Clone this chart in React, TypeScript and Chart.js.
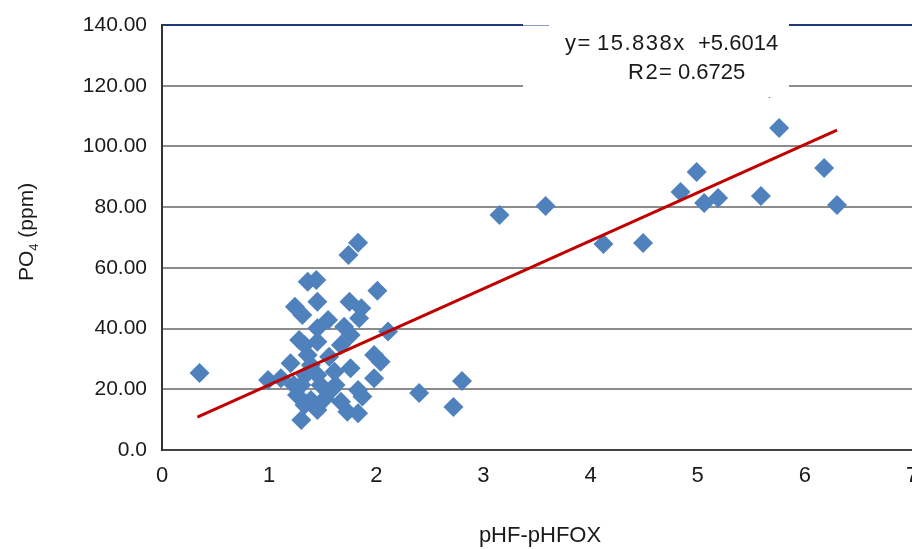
import React, { useEffect, useRef } from "react";
import { Chart, registerables } from "chart.js";

Chart.register(...registerables);

// Scatter data: pHF-pHFOX (x) vs PO4 ppm (y)
const xValues: number[] = [
  0.35, 2.40, 2.72, 2.80, 3.15, 3.58, 4.12, 4.49, 4.84, 4.99, 5.06, 5.19, 5.59, 5.76, 6.18, 6.30, 5.67,
  1.83, 1.74, 1.36, 1.44, 2.01, 1.24, 1.45, 1.75, 1.86, 1.31, 1.55, 1.84, 1.70, 1.45, 2.11,
  1.28, 1.33, 1.45, 1.76, 1.20, 1.36, 1.56, 1.98, 2.04, 0.99, 1.11, 1.30, 1.45, 1.61, 1.76,
  1.98, 1.83, 1.39, 1.52, 1.67, 1.87, 1.73, 1.83, 1.45, 1.30, 1.39, 1.48, 1.62, 1.34, 1.67,
  1.23, 1.58, 1.26, 1.33,
];
const yValues: number[] = [
  25.4, 18.8, 14.2, 22.7, 77.4, 80.4, 67.9, 68.2, 85.0, 91.6, 81.4, 83.0, 83.7, 106.1, 92.9, 80.7, 119.2,
  68.3, 64.2, 55.4, 56.0, 52.5, 47.2, 48.8, 48.8, 46.7, 44.5, 42.8, 43.4, 40.6, 40.1, 39.0,
  36.2, 34.6, 35.7, 37.9, 28.6, 31.3, 30.7, 31.3, 29.1, 23.1, 23.6, 21.4, 24.7, 25.8, 26.9,
  23.6, 19.8, 16.5, 17.0, 15.9, 17.6, 12.6, 12.1, 13.2, 9.9, 28.0, 21.4, 21.4, 24.7, 34.6,
  21.4, 19.8, 18.1, 14.8,
];

// Linear trend (from the equation shown on the chart)
const trendSlope = 15.838;
const trendIntercept = 5.6014;
const trendX: number[] = [0.33, 6.3];

const xTicks: number[] = [0, 1, 2, 3, 4, 5, 6, 7];
const yTicks: number[] = [0, 20, 40, 60, 80, 100, 120, 140];
const eqParts: string[] = ["y=", "15.838x", "+5.6014"];
const r2Parts: string[] = ["R2=", "0.6725"];

const FONT = "'Liberation Sans', Arial, sans-serif";

export default function App() {
  const canvasRef = useRef<HTMLCanvasElement | null>(null);

  useEffect(() => {
    if (!canvasRef.current) return;
    const points = xValues.map((x, i) => ({ x, y: yValues[i] }));
    const trend = trendX.map((x) => ({ x, y: trendSlope * x + trendIntercept }));

    const overlay = {
      id: "overlay",
      afterDatasetsDraw(chart: any) {
        const ctx = chart.ctx;
        ctx.save();
        // white equation box
        ctx.fillStyle = "#ffffff";
        ctx.fillRect(523, 27, 266, 70);
        ctx.fillRect(523, 20, 266, 10);
        ctx.strokeStyle = "#8a9ccc";
        ctx.lineWidth = 1;
        ctx.beginPath();
        ctx.moveTo(523, 25.5);
        ctx.lineTo(549, 25.5);
        ctx.stroke();
        ctx.fillStyle = "#1a1a1a";
        ctx.font = `22px ${FONT}`;
        ctx.textAlign = "left";
        ctx.textBaseline = "alphabetic";
        (ctx as any).letterSpacing = "1.5px";
        ctx.fillText(eqParts[0], 565, 50);
        ctx.fillText(eqParts[1], 597, 50);
        ctx.fillText(r2Parts[0], 628, 79);
        (ctx as any).letterSpacing = "0px";
        ctx.fillText(eqParts[2], 698, 50);
        ctx.fillText(r2Parts[1], 678, 79);
        ctx.restore();

        // x axis title
        ctx.save();
        ctx.fillStyle = "#1a1a1a";
        ctx.font = `22px ${FONT}`;
        ctx.textAlign = "center";
        ctx.textBaseline = "alphabetic";
        ctx.fillText("pHF-pHFOX", 540, 542);
        ctx.restore();

        // y axis title with subscript
        ctx.save();
        ctx.translate(27, 232);
        ctx.rotate(-Math.PI / 2);
        ctx.fillStyle = "#1a1a1a";
        ctx.textBaseline = "middle";
        const p1 = "PO";
        const p3 = " (ppm)";
        ctx.font = `21px ${FONT}`;
        const w1 = ctx.measureText(p1).width;
        const w3 = ctx.measureText(p3).width;
        ctx.font = `13px ${FONT}`;
        const w2 = ctx.measureText("4").width;
        const total = w1 + w2 + w3;
        let cx = -total / 2;
        ctx.textAlign = "left";
        ctx.font = `21px ${FONT}`;
        ctx.fillText(p1, cx, 0);
        cx += w1;
        ctx.font = `13px ${FONT}`;
        ctx.fillText("4", cx, 7);
        cx += w2;
        ctx.font = `21px ${FONT}`;
        ctx.fillText(p3, cx, 0);
        ctx.restore();
      },
    };

    const chart = new Chart(canvasRef.current, {
      type: "scatter",
      data: {
        datasets: [
          {
            type: "line",
            data: trend,
            borderColor: "#C00000",
            borderWidth: 3,
            pointRadius: 0,
            fill: false,
            order: 0,
          } as any,
          {
            data: points,
            pointStyle: "rectRot",
            pointRadius: 10,
            pointHoverRadius: 10,
            backgroundColor: "#4F81BD",
            borderColor: "#4F81BD",
            borderWidth: 0,
            order: 1,
          },
        ],
      },
      options: {
        animation: false,
        responsive: false,
        maintainAspectRatio: false,
        events: [],
        layout: { autoPadding: false, padding: { left: 0, right: 0, top: 25, bottom: 0 } },
        plugins: { legend: { display: false }, tooltip: { enabled: false } },
        scales: {
          x: {
            type: "linear",
            min: 0,
            max: 7,
            afterBuildTicks: (s: any) => {
              s.ticks = xTicks.map((v) => ({ value: v }));
            },
            afterFit: (s: any) => {
              s.height = 99;
              s.paddingLeft = 0;
              s.paddingRight = 0;
            },
            grid: { display: false, drawTicks: false },
            border: { display: true, color: "#444444", width: 2 },
            ticks: {
              color: "#1a1a1a",
              font: { family: FONT, size: 22 },
              padding: 13,
              maxRotation: 0,
              autoSkip: false,
            },
          },
          y: {
            type: "linear",
            min: 0,
            max: 140,
            afterBuildTicks: (s: any) => {
              s.ticks = yTicks.map((v) => ({ value: v }));
            },
            afterFit: (s: any) => {
              s.width = 162;
              s.paddingTop = 0;
              s.paddingBottom = 0;
            },
            grid: {
              display: true,
              drawTicks: false,
              lineWidth: 2,
              color: (c: any) => (c.tick && c.tick.value === 140 ? "#1F3A78" : "#8c8c8c"),
            },
            border: { display: true, color: "#333333", width: 2 },
            ticks: {
              color: "#1a1a1a",
              font: { family: FONT, size: 21 },
              padding: 15,
              callback: (v: any) => (v === 0 ? "0.0" : Number(v).toFixed(2)),
            },
          },
        },
      },
      plugins: [overlay],
    });
    return () => chart.destroy();
  }, []);

  return (
    <div style={{ position: "absolute", left: 0, top: 0, width: 912, height: 549, background: "#fff" }}>
      <canvas ref={canvasRef} width={912} height={549} style={{ width: 912, height: 549 }} />
    </div>
  );
}
